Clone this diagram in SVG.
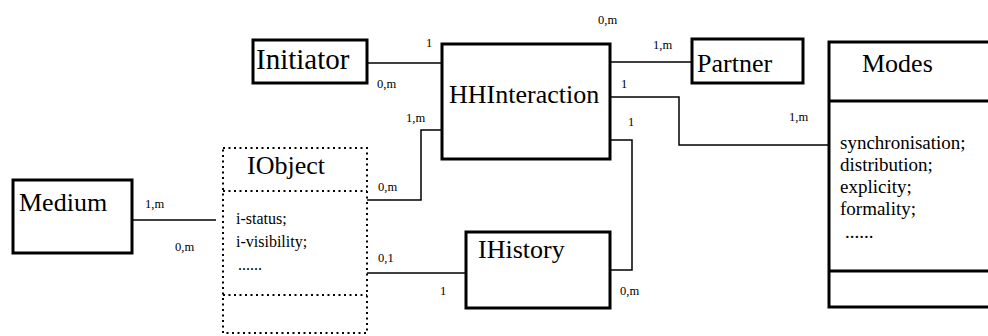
<svg xmlns="http://www.w3.org/2000/svg" width="988" height="336" viewBox="0 0 988 336" font-family="'Liberation Serif', 'Times New Roman', Times, serif">
<style>
text{font-family:'Liberation Serif','Times New Roman',Times,serif;fill:#000}
.box{fill:#fff;stroke:#000;stroke-width:3}
.dot{fill:none;stroke:#000;stroke-width:2;stroke-dasharray:2 3.5}
.name{font-size:26px}
.attr{font-size:16px}
.attr2{font-size:19px}
.lbl{font-size:12.5px}
.conn path{fill:none;stroke:#000;stroke-width:1.5}
</style>
<rect width="988" height="336" fill="#fff"/>
<g class="conn" id="connectors">
<path d="M367,63 H441"/>
<path d="M610,62 H692"/>
<path d="M610,97 H679 V145 H829"/>
<path d="M610,140 H632 V270 H610"/>
<path d="M441,130 H421 V200 H367"/>
<path d="M367,273 H466"/>
<path d="M132,220 H216"/>
</g>
<g id="labels">
<text class="lbl" x="426" y="47">1</text>
<text class="lbl" x="377" y="88">0,m</text>
<text class="lbl" x="598" y="24">0,m</text>
<text class="lbl" x="653" y="49">1,m</text>
<text class="lbl" x="621" y="88">1</text>
<text class="lbl" x="628" y="126">1</text>
<text class="lbl" x="789" y="121">1,m</text>
<text class="lbl" x="406" y="122">1,m</text>
<text class="lbl" x="378" y="191">0,m</text>
<text class="lbl" x="378" y="262">0,1</text>
<text class="lbl" x="440" y="295">1</text>
<text class="lbl" x="620" y="295">0,m</text>
<text class="lbl" x="145" y="208">1,m</text>
<text class="lbl" x="175" y="251">0,m</text>
</g>
<g id="initiator">
<rect class="box" x="253" y="40" width="114" height="43"/>
<text class="name" x="256" y="69" style="font-size:29px">Initiator</text>
</g>
<g id="hhinteraction">
<rect class="box" x="442" y="44" width="168" height="115"/>
<text class="name" x="449" y="103">HHInteraction</text>
</g>
<g id="partner">
<rect class="box" x="692" y="39" width="111" height="44"/>
<text class="name" x="697" y="72">Partner</text>
</g>
<g id="modes">
<rect class="box" x="829" y="42" width="170" height="265"/>
<line x1="829" y1="101" x2="988" y2="101" stroke="#000" stroke-width="3"/>
<line x1="829" y1="271" x2="988" y2="271" stroke="#000" stroke-width="3"/>
<text class="name" x="862" y="72">Modes</text>
<text class="attr2" x="840" y="149">synchronisation;</text>
<text class="attr2" x="840" y="171">distribution;</text>
<text class="attr2" x="840" y="193">explicity;</text>
<text class="attr2" x="840" y="215">formality;</text>
<text class="attr2" x="845" y="238">......</text>
</g>
<g id="medium">
<rect class="box" x="13" y="180" width="119" height="73"/>
<text class="name" x="19" y="211">Medium</text>
</g>
<g id="iobject">
<rect class="dot" x="223" y="148" width="144" height="185"/>
<line class="dot" x1="223" y1="191" x2="367" y2="191"/>
<line class="dot" x1="223" y1="295" x2="367" y2="295"/>
<text class="name" x="247" y="174">IObject</text>
<text class="attr" x="236" y="224">i-status;</text>
<text class="attr" x="236" y="247">i-visibility;</text>
<text class="attr" x="238" y="270">......</text>
</g>
<g id="ihistory">
<rect class="box" x="466" y="232" width="144" height="76"/>
<text class="name" x="478" y="258">IHistory</text>
</g>
</svg>
